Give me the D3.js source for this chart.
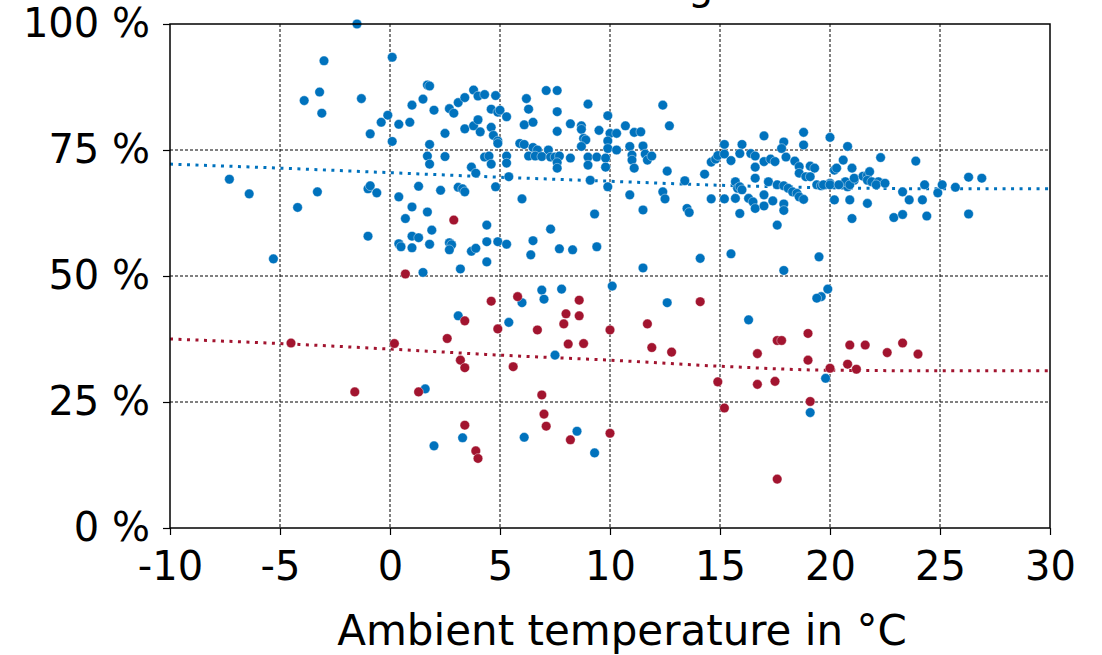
<!DOCTYPE html>
<html>
<head>
<meta charset="utf-8">
<script src="https://cdn.jsdelivr.net/npm/d3@7"></script>
<style>
  body { margin: 0; background: #fff; }
  svg { display: block; font-family: "DejaVu Sans", sans-serif; }
</style>
</head>
<body>
<svg id="chart" width="1102" height="655"></svg>
<script>
(() => {

    // tick values
    const x_ticks = [-10, -5, 0, 5, 10, 15, 20, 25, 30];
    const y_ticks = [0, 25, 50, 75, 100];

    // scatter data [ambient temperature in °C, value in %]
    const blue_points = [
        [-1.5,100],[0.1,93.4],[-3.0,92.7],[-3.2,86.5],[-3.9,84.8],[-1.3,85.2],[-3.1,82.3],[-0.1,81.9],
        [-0.4,80.5],[0.4,80.1],[-0.9,78.2],[0.1,76.7],[-7.3,69.2],[-6.4,66.3],[-3.3,66.7],[-4.2,63.6],
        [-1.0,67.3],[-0.9,67.9],[-0.6,66.5],[0.4,65.7],[-1.0,57.9],[0.4,56.4],[0.5,55.8],[-5.3,53.4],
        [1.7,87.9],[1.8,87.7],[1.5,85.1],[1.0,83.9],[2.0,82.9],[0.9,80.5],[2.7,83.2],[2.9,82.3],
        [3.1,84.4],[3.4,85.4],[3.8,86.9],[4.0,85.7],[4.3,86.0],[4.8,85.8],[4.6,83.1],[4.9,82.5],
        [5.0,82.9],[5.3,81.6],[2.5,78.3],[3.4,79.2],[3.8,79.8],[4.0,81.0],[4.1,78.6],[4.6,79.5],
        [4.7,77.9],[4.9,76.8],[4.9,76.3],[1.8,76.1],[1.7,73.8],[1.8,72.2],[2.5,73.7],[4.3,73.6],
        [4.5,73.8],[4.6,72.2],[3.7,71.6],[3.9,70.4],[5.4,69.7],[4.8,67.7],[1.3,67.8],[2.3,67.0],
        [3.1,67.6],[3.3,67.3],[3.4,66.7],[1.0,63.7],[1.7,62.7],[0.7,61.4],[4.4,60.1],[1.9,59.1],
        [1.0,57.9],[1.3,57.6],[1.0,55.6],[1.8,56.3],[2.7,56.6],[2.8,56.2],[2.7,55.2],[3.7,54.9],
        [3.9,55.5],[4.4,56.8],[4.9,56.8],[5.3,56.3],[4.4,52.8],[3.2,51.4],[1.5,50.7],
        [7.1,86.8],[7.6,86.8],[6.2,85.2],[6.3,83.1],[7.6,82.6],[9.0,84.1],[6.1,80.0],[6.5,80.5],
        [7.6,78.7],[8.2,80.2],[8.7,79.8],[8.7,79.1],[9.5,78.9],[9.9,81.8],[8.8,77.3],[8.9,77.0],
        [8.7,75.7],[10.0,78.3],[10.3,78.3],[9.9,76.8],[9.9,75.3],[10.3,75.0],[5.9,76.3],[6.1,76.1],
        [6.5,75.5],[6.7,75.0],[7.2,75.0],[6.3,73.8],[6.6,73.8],[6.9,73.7],[7.3,73.6],[7.5,73.6],
        [7.7,73.8],[7.6,72.5],[7.6,71.4],[8.2,73.4],[9.0,73.6],[9.0,72.0],[9.4,73.6],[9.8,73.4],
        [9.8,71.6],[5.3,73.8],[5.3,72.4],[9.1,69.0],[9.9,67.7],[10.9,66.1],[6.0,65.3],[9.3,62.3],
        [7.3,59.3],[6.5,57.0],[6.4,54.2],[7.7,55.4],[8.3,55.2],[9.4,55.8],
        [10.7,79.8],[11.1,78.5],[11.4,78.6],[10.9,75.7],[11.0,74.0],[11.0,73.0],[11.1,71.4],[11.5,75.8],
        [11.6,74.2],[11.7,73.0],[11.9,73.8],[12.4,83.9],[12.7,79.8],[12.6,70.8],[12.4,66.7],[12.5,65.3],
        [11.5,63.1],[13.4,68.9],[13.5,63.4],[13.6,62.6],[14.1,53.5],[14.3,70.2],[14.6,72.6],[14.8,73.2],
        [14.9,73.9],[15.2,76.1],[15.2,74.2],[14.6,65.3],[15.2,65.3],[15.5,72.9],[15.5,54.4],[15.7,68.7],
        [15.8,67.4],[15.9,67.7],[16.0,67.1],[15.7,65.4],[15.9,62.4],[16.0,76.1],[15.9,74.3],[16.4,74.3],
        [16.6,73.8],[16.6,71.6],[16.6,69.4],[16.3,65.4],[16.5,64.7],[16.6,63.4],[17.0,63.9],[17.0,66.1],
        [17.0,77.8],[17.0,72.7],[17.3,73.2],[17.5,72.7],[17.2,68.7],[17.6,68.1],[17.9,67.9],[18.1,67.4],
        [18.3,66.7],[18.5,66.4],[18.6,65.7],[18.8,65.2],[17.4,64.9],[17.9,64.3],[17.9,63.0],[17.6,60.1],
        [17.9,76.6],[17.8,75.3],[18.0,73.6],[18.4,72.8],[18.6,71.7],[18.6,70.4],[18.9,69.7],[18.8,78.5],
        [18.8,76.0],[19.1,71.8],[19.3,71.4],[19.1,69.7],[19.4,68.1],[19.6,67.9],[19.5,53.8],[20.0,77.5],
        [20.2,71.0],[20.3,71.4],[20.0,68.4],[20.2,65.1],
        [19.7,68.1],[20.0,68.1],[20.6,73.0],[21.0,71.4],[20.8,75.7],[20.8,67.7],[20.7,68.7],[21.1,69.0],
        [20.9,65.1],[21.0,61.4],
        [20.4,68.1],[20.9,68.1],[21.1,69.4],[21.5,69.8],[21.7,70.0],[21.8,70.7],[21.7,69.0],[21.9,68.7],
        [22.2,68.7],[22.1,68.1],[22.5,68.4],[22.3,73.5],[21.7,64.4],[22.9,61.6],[23.3,62.2],[23.3,66.7],
        [23.6,65.1],[24.2,65.1],[23.9,72.8],[24.3,68.1],[24.4,61.9],[24.9,66.5],[25.1,68.1],[25.7,67.6],
        [26.3,69.6],[26.9,69.4],[26.3,62.3],
        [3.1,42.1],[1.6,27.6],[3.3,17.9],[2.0,16.3],[11.5,51.6],[17.9,51.1],[6.0,44.7],[6.9,47.2],
        [7.0,45.4],[7.8,47.4],[10.1,48.0],[5.4,40.8],[12.6,44.7],[16.3,41.3],[7.5,34.3],[6.1,18.0],
        [8.5,19.2],[9.3,14.9],[19.1,22.9],[19.9,47.4],[19.6,45.9],[19.4,45.6],[19.8,29.7]
    ];

    const red_points = [
        [2.9,61.1],[0.7,50.4],[4.6,45.0],[3.4,41.1],[4.9,39.5],[2.6,37.6],[-4.5,36.7],[0.2,36.6],
        [3.2,33.3],[3.4,31.8],[-1.6,27.0],[1.3,27.0],[3.4,20.4],[3.9,15.3],[4.0,13.8],[5.8,45.9],
        [8.6,45.2],[8.0,42.5],[7.9,40.5],[8.6,42.1],[6.7,39.3],[10.0,39.3],[14.1,44.9],[11.7,40.5],
        [8.1,36.5],[8.8,36.6],[5.6,32.0],[11.9,35.8],[12.8,34.9],[19.0,38.6],[17.6,37.2],[17.8,37.2],
        [16.7,34.6],[19.0,33.3],[14.9,29.0],[16.7,28.5],[17.5,29.1],[15.2,23.8],[6.9,26.4],[7.0,22.6],
        [7.1,20.2],[8.2,17.5],[10.0,18.8],[17.6,9.7],[19.1,25.1],[20.0,31.7],[20.9,36.3],[21.6,36.3],
        [20.8,32.5],[21.2,31.5],[22.6,34.8],[23.3,36.7],[24.0,34.5]
    ];

    // trend lines
    const trend_temps = [-10, -5, 0, 5, 10, 15, 20, 25, 30];
    const blue_trend = [72.2, 71.4, 70.5, 69.6, 68.8, 68.0, 67.5, 67.3, 67.3];
    const red_trend = [37.5, 36.6, 35.5, 34.3, 33.3, 32.1, 31.3, 31.2, 31.2];

    const blue_color = '#0072BD';
    const red_color = '#A2142F';

    // chart frame
    const left = 170, right = 1050, top = 24, bottom = 528;
    const font_size = 40;

    let svg = d3.select('#chart');

    let x_scale = d3.scaleLinear().domain([-10, 30]).range([left, right]);
    let y_scale = d3.scaleLinear().domain([0, 100]).range([bottom, top]);

    // title, cut off at the top edge as in the source picture
    svg.append('text')
        .attr('x', 738)
        .attr('y', -1.5)
        .attr('text-anchor', 'end')
        .style('font-size', font_size + 'px')
        .text('Initial state of charge');

    // grid
    svg.append('g')
        .selectAll('line')
        .data(x_ticks.slice(1, -1))
        .enter()
        .append('line')
        .attr('x1', (d) => x_scale(d)).attr('x2', (d) => x_scale(d))
        .attr('y1', top).attr('y2', bottom)
        .attr('stroke', '#000').attr('stroke-width', 1).attr('stroke-dasharray', '3,2');

    svg.append('g')
        .selectAll('line')
        .data(y_ticks.slice(1, -1))
        .enter()
        .append('line')
        .attr('y1', (d) => y_scale(d)).attr('y2', (d) => y_scale(d))
        .attr('x1', left).attr('x2', right)
        .attr('stroke', '#000').attr('stroke-width', 1).attr('stroke-dasharray', '3,2');

    // trend lines
    let trend = d3.line()
        .x((d, i) => x_scale(trend_temps[i]))
        .y((d) => y_scale(d))
        .curve(d3.curveMonotoneX);

    svg.append('path')
        .datum(blue_trend)
        .attr('fill', 'none')
        .attr('stroke', blue_color)
        .attr('stroke-width', 3)
        .attr('stroke-dasharray', '3,5.5')
        .attr('d', trend);

    svg.append('path')
        .datum(red_trend)
        .attr('fill', 'none')
        .attr('stroke', red_color)
        .attr('stroke-width', 3)
        .attr('stroke-dasharray', '3,5.5')
        .attr('d', trend);

    // scatter points
    svg.append('g')
        .selectAll('circle')
        .data(blue_points)
        .enter()
        .append('circle')
        .attr('cx', (d) => x_scale(d[0]))
        .attr('cy', (d) => y_scale(d[1]))
        .attr('r', 4.8)
        .attr('fill', blue_color)
        .attr('stroke', '#fff')
        .attr('stroke-width', 0.4);

    svg.append('g')
        .selectAll('circle')
        .data(red_points)
        .enter()
        .append('circle')
        .attr('cx', (d) => x_scale(d[0]))
        .attr('cy', (d) => y_scale(d[1]))
        .attr('r', 4.8)
        .attr('fill', red_color)
        .attr('stroke', '#fff')
        .attr('stroke-width', 0.4);

    // frame
    svg.append('rect')
        .attr('x', left).attr('y', top)
        .attr('width', right - left).attr('height', bottom - top)
        .attr('fill', 'none').attr('stroke', '#000').attr('stroke-width', 1.5);

    // axes
    let x_axis = d3.axisBottom(x_scale)
        .tickValues(x_ticks)
        .tickFormat((d) => String(d))
        .tickSize(7)
        .tickPadding(16.6);
    let gx = svg.append('g')
        .attr('transform', `translate(0, ${bottom})`)
        .call(x_axis);

    let y_axis = d3.axisLeft(y_scale)
        .tickValues(y_ticks)
        .tickFormat((d) => d + ' %')
        .tickSize(7)
        .tickPadding(13);
    let gy = svg.append('g')
        .attr('transform', `translate(${left}, 0)`)
        .call(y_axis);

    [gx, gy].forEach((g) => {
        g.select('.domain').remove();
        g.selectAll('.tick line').attr('stroke', '#000').attr('stroke-width', 1.2);
        g.selectAll('.tick text')
            .attr('fill', '#000')
            .style('font-family', '"DejaVu Sans", sans-serif')
            .style('font-size', font_size + 'px');
    });

    // axis label
    svg.append('text')
        .attr('x', 622)
        .attr('y', 645)
        .attr('text-anchor', 'middle')
        .style('font-size', '42px')
        .text('Ambient temperature in °C');

})();
</script>
</body>
</html>
